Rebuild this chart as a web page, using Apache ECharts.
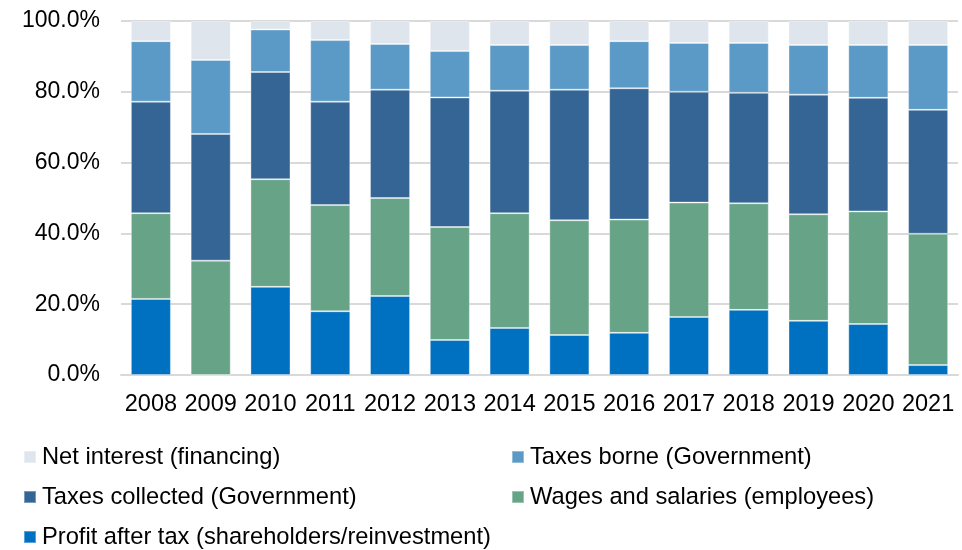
<!DOCTYPE html>
<html>
<head>
<meta charset="utf-8">
<script src="https://cdn.jsdelivr.net/npm/echarts@6/dist/echarts.min.js"></script>
<style>
  html, body { margin: 0; padding: 0; background: #fff; }
  #chart { width: 962px; height: 550px; }
</style>
</head>
<body>
<div id="chart"></div>
<script>
const years = ['2008', '2009', '2010', '2011', '2012', '2013', '2014', '2015', '2016', '2017', '2018', '2019', '2020', '2021']

// shares in %
const profitAfterTax = [21.5, 0, 24.9, 18.0, 22.3, 9.9, 13.3, 11.3, 11.9, 16.4, 18.4, 15.3, 14.4, 2.8]
const wagesSalaries = [24.2, 32.3, 30.4, 30.0, 27.7, 31.9, 32.4, 32.4, 32.0, 32.3, 30.1, 30.1, 31.8, 37.1]
const taxesCollected = [31.5, 35.8, 30.3, 29.2, 30.6, 36.6, 34.6, 36.9, 37.1, 31.3, 31.2, 33.8, 32.1, 35.0]
const taxesBorne = [17.1, 20.9, 12.0, 17.4, 12.9, 13.1, 12.9, 12.6, 13.3, 13.8, 14.1, 14.0, 14.9, 18.3]
const netInterest = [5.7, 11.0, 2.4, 5.4, 6.5, 8.5, 6.8, 6.8, 5.7, 6.2, 6.2, 6.8, 6.8, 6.8]

const names = {
  profit: 'Profit after tax (shareholders/reinvestment)',
  wages: 'Wages and salaries (employees)',
  collected: 'Taxes collected (Government)',
  borne: 'Taxes borne (Government)',
  interest: 'Net interest (financing)'
}

const font = 'Liberation Sans, Arial, sans-serif'
const chart = echarts.init(document.getElementById('chart'))

const legendItem = (name, left, top) => ({
  data: [name],
  left: left,
  top: top,
  padding: 0,
  icon: 'rect',
  itemWidth: 12,
  itemHeight: 12,
  itemGap: 0,
  selectedMode: false,
  textStyle: { color: '#000', fontSize: 23.7, fontFamily: font, padding: [0, 0, 0, 1] }
})

const barSeries = (name, data, color) => ({
  name: name,
  type: 'bar',
  stack: 'total',
  data: data,
  barWidth: '67%',
  itemStyle: { color: color, borderColor: 'rgba(255,255,255,0.35)', borderWidth: 1 },
  emphasis: { disabled: true }
})

chart.setOption({
  animation: false,
  textStyle: { fontFamily: font },
  grid: { left: 121, right: 4, top: 21, bottom: 175 },
  legend: [
    legendItem(names.interest, 23, 445),
    legendItem(names.borne, 511, 445),
    legendItem(names.collected, 23, 485),
    legendItem(names.wages, 511, 485),
    legendItem(names.profit, 23, 525)
  ],
  xAxis: {
    type: 'category',
    data: years,
    axisLine: { lineStyle: { color: '#D9D9D9', width: 2 } },
    axisTick: { show: false },
    axisLabel: { color: '#000', fontSize: 23.5, fontFamily: font, margin: 18, interval: 0 }
  },
  yAxis: {
    type: 'value',
    min: 0,
    max: 100,
    interval: 20,
    axisLine: { show: false },
    axisTick: { show: false },
    axisLabel: {
      color: '#000',
      fontSize: 23,
      fontFamily: font,
      margin: 21,
      formatter: v => v.toFixed(1) + '%'
    },
    splitLine: { lineStyle: { color: '#D9D9D9', width: 2 } }
  },
  series: [
    barSeries(names.profit, profitAfterTax, '#0070C0'),
    barSeries(names.wages, wagesSalaries, '#66A387'),
    barSeries(names.collected, taxesCollected, '#346594'),
    barSeries(names.borne, taxesBorne, '#5B9AC6'),
    barSeries(names.interest, netInterest, '#DEE5EC')
  ]
})
</script>
</body>
</html>
